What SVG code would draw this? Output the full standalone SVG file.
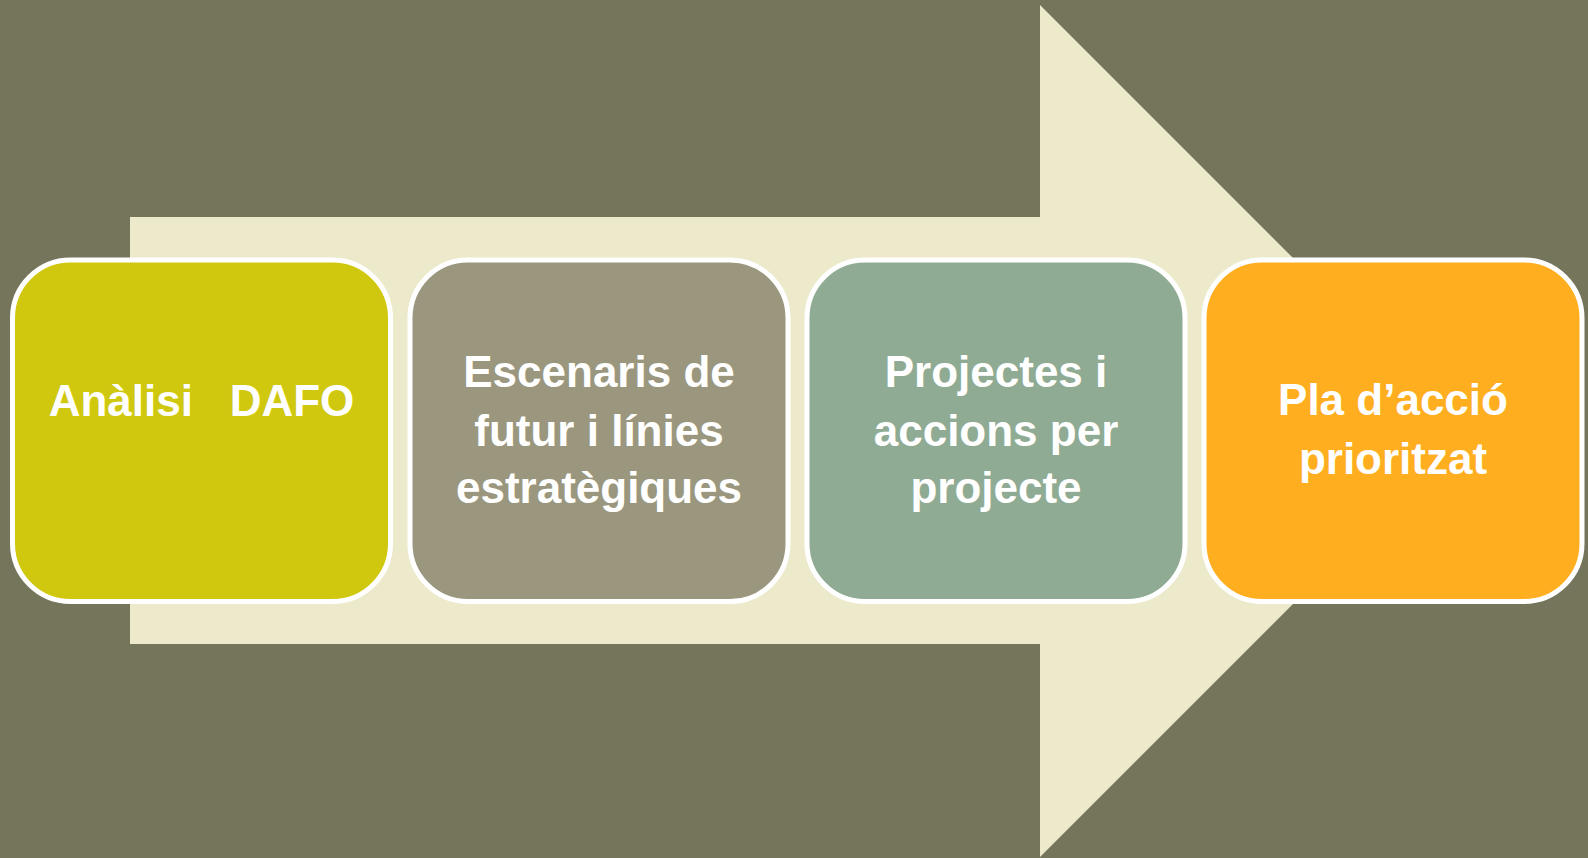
<svg xmlns="http://www.w3.org/2000/svg" width="1588" height="858" viewBox="0 0 1588 858">
<style>
.box{stroke:#FFFFFF;stroke-width:5}
.lbl{font-family:"Liberation Sans",Arial,sans-serif;font-weight:bold;font-size:44px;fill:#FFFFFF;text-anchor:middle}
</style>
<rect x="0" y="0" width="1588" height="858" fill="#75755C"/>
<g id="arrow">
<polygon points="130,217 1040,217 1040,5 1466,431 1040,857 1040,644 130,644" fill="#EDEACC"/>
</g>
<g id="connectors"></g>
<g id="node1">
<rect class="box" x="12.5" y="260" width="378" height="341.5" rx="58" ry="58" fill="#D0C80E"/>
<text class="lbl" x="201.5" y="416" xml:space="preserve">Anàlisi   DAFO</text>
</g>
<g id="node2">
<rect class="box" x="410" y="260" width="378" height="341.5" rx="58" ry="58" fill="#9A977E"/>
<text class="lbl" x="599" y="387">Escenaris de</text>
<text class="lbl" x="599" y="446">futur i línies</text>
<text class="lbl" x="599" y="503">estratègiques</text>
</g>
<g id="node3">
<rect class="box" x="807" y="260" width="378" height="341.5" rx="58" ry="58" fill="#8FAB94"/>
<text class="lbl" x="996" y="387">Projectes i</text>
<text class="lbl" x="996" y="446">accions per</text>
<text class="lbl" x="996" y="503">projecte</text>
</g>
<g id="node4">
<rect class="box" x="1204" y="260" width="378" height="341.5" rx="58" ry="58" fill="#FFAE20"/>
<text class="lbl" x="1393" y="415">Pla d’acció</text>
<text class="lbl" x="1393" y="474">prioritzat</text>
</g>
</svg>
